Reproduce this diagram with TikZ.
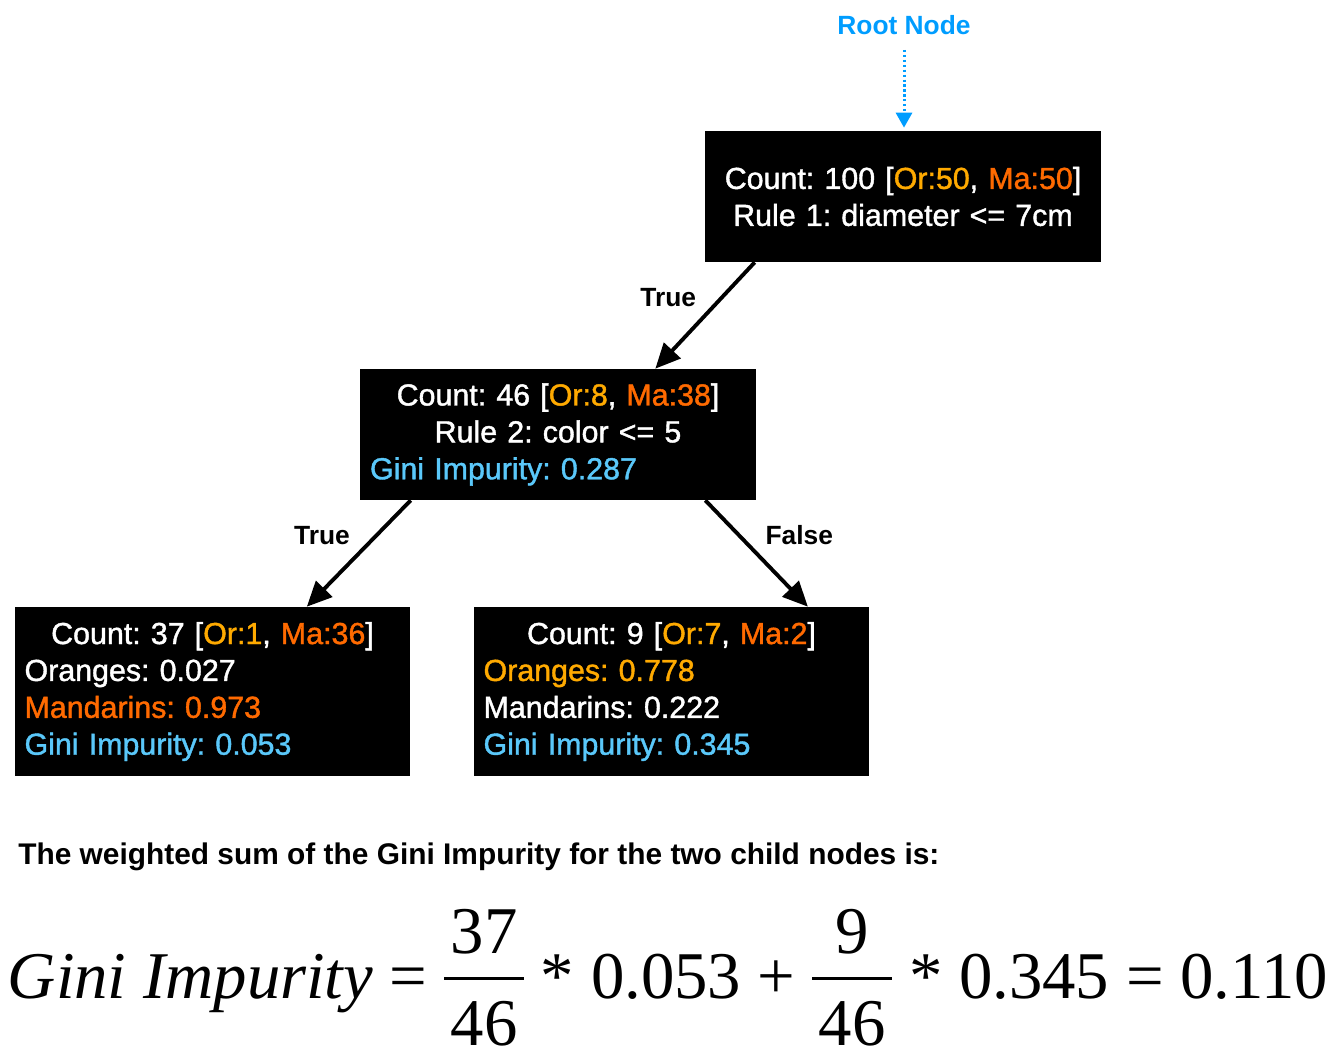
\documentclass[tikz,border=0pt]{standalone}
\usepackage{fontspec}
\setmainfont{Liberation Sans}
\newfontfamily\boxfont{Liberation Sans}[FakeBold=1.3]
\newfontfamily\eqfont{Liberation Serif}
\usetikzlibrary{arrows.meta,positioning}
\definecolor{orclr}{RGB}{255,170,0}
\definecolor{maclr}{RGB}{255,106,0}
\definecolor{giniclr}{RGB}{90,200,250}
\definecolor{rootclr}{RGB}{0,157,255}
\frenchspacing
\newcommand{\ctrline}[1]{\makebox[\linewidth][c]{#1}}
\newcommand{\orv}[1]{\textcolor{orclr}{#1}}
\newcommand{\mav}[1]{\textcolor{maclr}{#1}}
\newcommand{\gnv}[1]{\textcolor{giniclr}{#1}}
%% stacked fraction in text mode, bar at about the height of "="
\newcommand{\eqfrac}[2]{\raisebox{\dimexpr0.3em-0.5\height+0.5\depth\relax}{\vbox{\halign{\hfil\kern0.1em##\kern0.1em\hfil\cr
  #1\cr\noalign{\kern0.33em\hrule height0.045em\kern0.33em}#2\cr}}}}
\tikzset{
  %% black decision box
  tbox/.style={rectangle,fill=black,text=white,
    minimum width=7.92cm,minimum height=2.62cm,text width=7.52cm,
    inner sep=0.2cm,align=left,font=\boxfont\fontsize{17.3}{21}\selectfont},
  %% leaf box (one line more)
  leaf/.style={tbox,minimum height=3.38cm},
  %% arrows
  arr/.style={-{Triangle[length=0.5cm,width=0.45cm]},line width=2.2pt},
  rarr/.style={-{Triangle[length=0.3cm,width=0.32cm]},line width=1.7pt,
    dash pattern=on 1.3pt off 1.5pt,color=rootclr},
  lbl/.style={font=\bfseries\fontsize{15}{18}\selectfont,inner sep=4pt},
  %% text below the tree
  note/.style={font=\bfseries\fontsize{17}{20}\selectfont,inner sep=0pt,anchor=west},
  eqn/.style={font=\eqfont\fontsize{38}{44}\selectfont,inner sep=0pt},
}
\begin{document}
\begin{tikzpicture}[x=0.02cm,y=-0.02cm]
  \useasboundingbox (0,0) rectangle (1338,1064);

  \node[tbox] (root) at (903,196.5)
    {\ctrline{Count: 100 [\orv{Or:50}, \mav{Ma:50}]}\\
     \ctrline{Rule 1: diameter <= 7cm}};
  \node[tbox] (mid) at (558,434.5)
    {\ctrline{Count: 46 [\orv{Or:8}, \mav{Ma:38}]}\\
     \ctrline{Rule 2: color <= 5}\\
     \gnv{Gini Impurity: 0.287}};
  \node[leaf] (left) at (212.5,691.5)
    {\ctrline{Count: 37 [\orv{Or:1}, \mav{Ma:36}]}\\
     Oranges: 0.027\\
     \mav{Mandarins: 0.973}\\
     \gnv{Gini Impurity: 0.053}};
  \node[leaf] (right) at (671.5,691.5)
    {\ctrline{Count: 9 [\orv{Or:7}, \mav{Ma:2}]}\\
     \orv{Oranges: 0.778}\\
     Mandarins: 0.222\\
     \gnv{Gini Impurity: 0.345}};

  \node[lbl,text=rootclr] (rootlbl) at (904,25) {Root Node};
  \draw[rarr] ([yshift=-0.5cm]rootlbl.center) -- ([yshift=0.06cm]rootlbl.center |- root.north);

  \draw[arr] ([xshift=1cm]root.south west) -- node[lbl,midway,above left]{True} ([xshift=-2.02cm]mid.north east);
  \draw[arr] ([xshift=1.02cm]mid.south west) -- node[lbl,midway,above left]{True} ([xshift=-2.08cm]left.north east);
  \draw[arr] ([xshift=-1.02cm]mid.south east) -- node[lbl,midway,above right]{False} ([xshift=-1.24cm]right.north east);

  \node[note] (sum) at (18,857) {The weighted sum of the Gini Impurity for the two child nodes is:};
  \node[eqn] (eq) at (668,978)
    {{\itshape Gini Impurity} = \eqfrac{37}{46} * 0.053 + \eqfrac{9}{46} * 0.345 = 0.110};
\end{tikzpicture}
\end{document}
